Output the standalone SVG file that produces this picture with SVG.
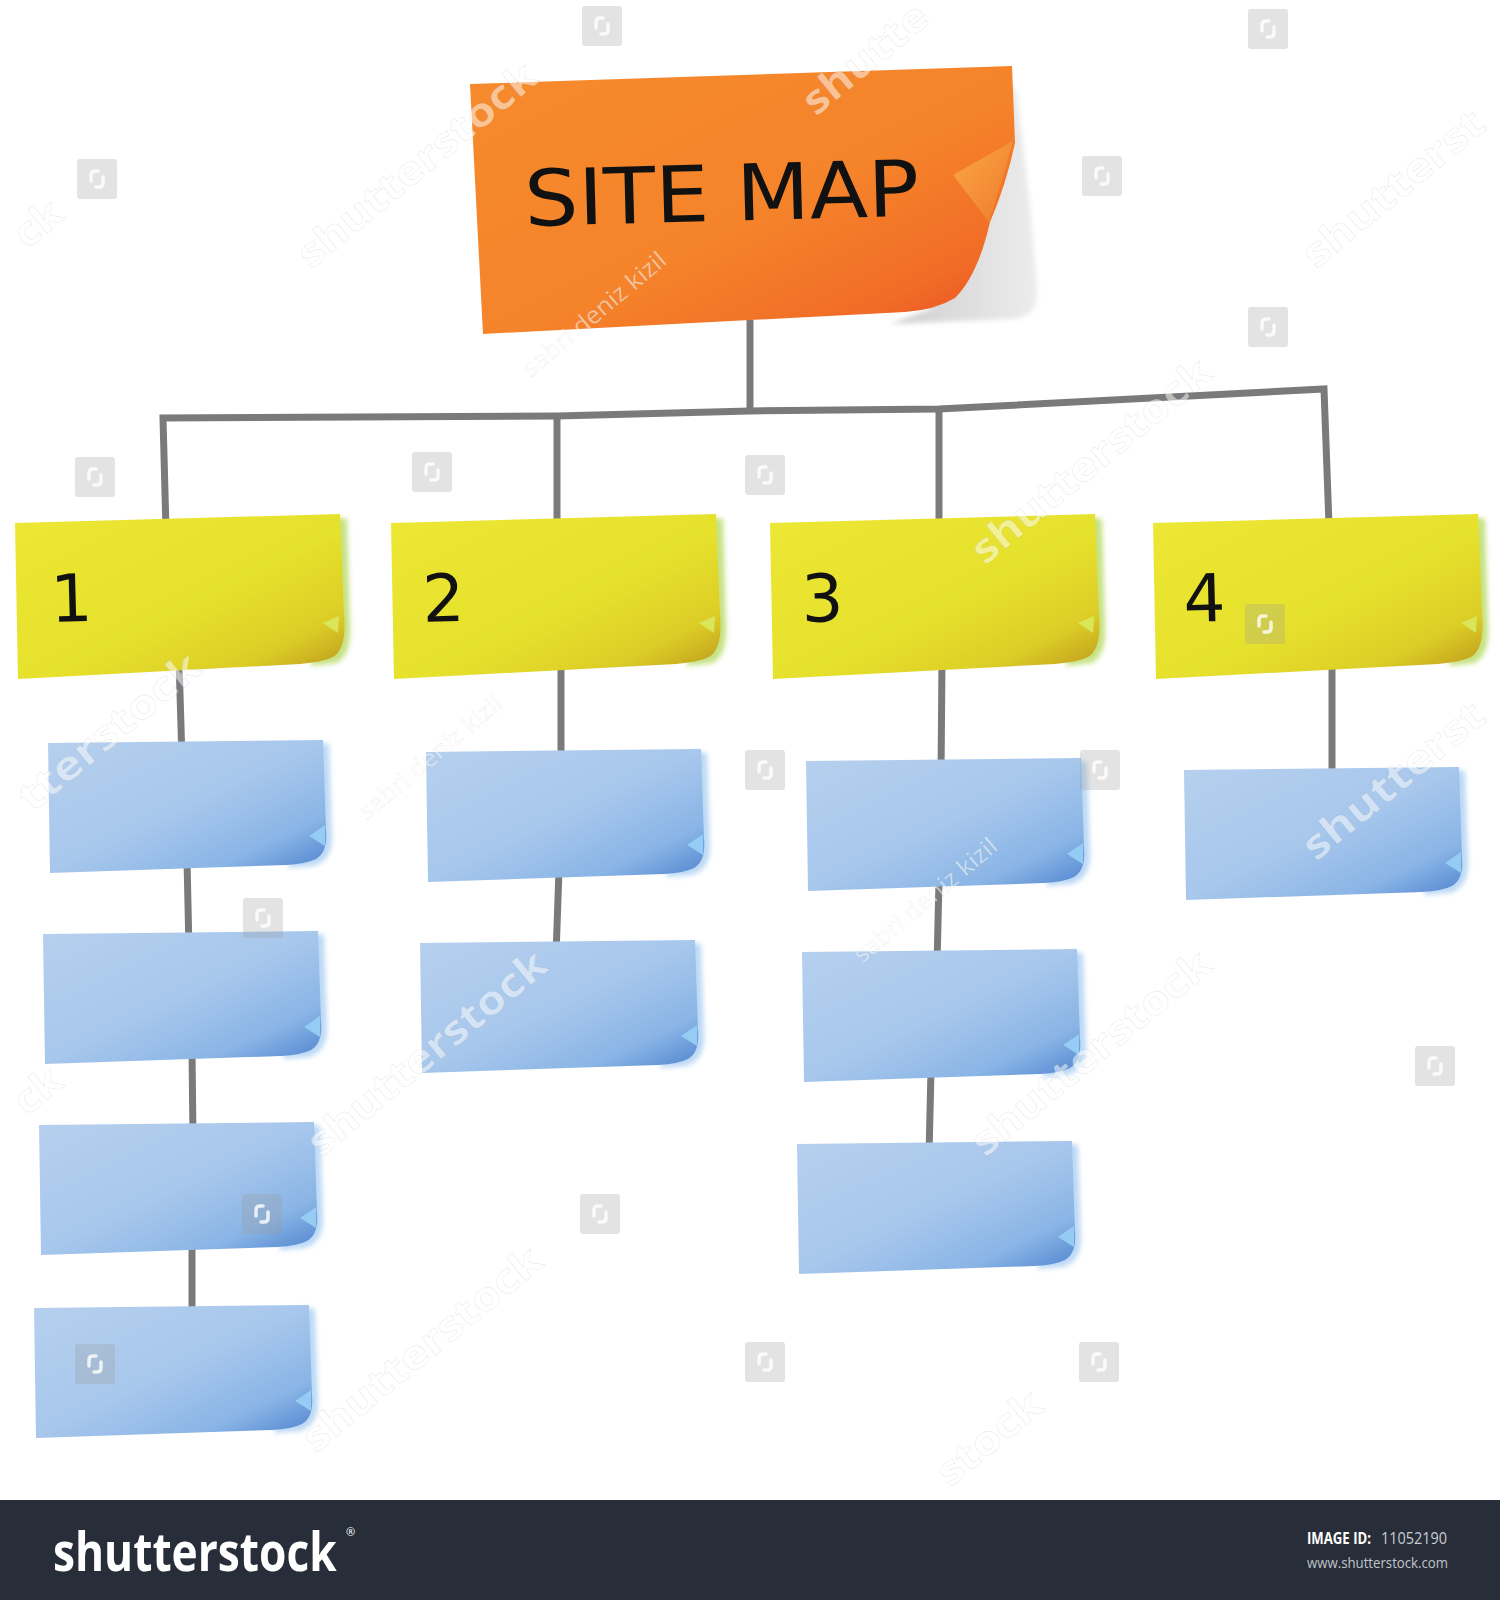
<svg xmlns="http://www.w3.org/2000/svg" xmlns:xlink="http://www.w3.org/1999/xlink" width="1500" height="1600" viewBox="0 0 1500 1600">
<style>
.conn{fill:none;stroke:#7a7a7a;stroke-width:7;stroke-linecap:butt;stroke-linejoin:miter}
.hand{font-family:"DejaVu Sans","Liberation Sans",sans-serif;fill:#111}
.wm{font-family:"Open Sans","DejaVu Sans",sans-serif;font-weight:700;fill:#ffffff;fill-opacity:0.5;stroke:#000;stroke-opacity:0.07;stroke-width:1}
.wms{font-family:"Open Sans","DejaVu Sans",sans-serif;font-weight:400;fill:#ffffff;fill-opacity:0.55;stroke:#000;stroke-opacity:0.07;stroke-width:0.8}
.ico rect{fill:#9a9a9a;fill-opacity:0.28}
.ico path{fill:none;stroke:#ffffff;stroke-opacity:0.8;stroke-width:3.5;stroke-linecap:round}
.foot{font-family:"Open Sans","Liberation Sans",sans-serif}
</style>
<defs>
<linearGradient id="gOrange" x1="0" y1="0" x2="1" y2="1">
<stop offset="0" stop-color="#f68b2c"/>
<stop offset="0.55" stop-color="#f5832a"/>
<stop offset="0.82" stop-color="#f16c27"/>
<stop offset="1" stop-color="#e84a20"/>
</linearGradient>
<linearGradient id="gFlap" x1="0" y1="0" x2="1" y2="1">
<stop offset="0" stop-color="#f9a848"/>
<stop offset="1" stop-color="#f07a2a"/>
</linearGradient>
<linearGradient id="gShadow" x1="0" y1="0" x2="1" y2="0">
<stop offset="0" stop-color="#cfcfcf"/>
<stop offset="1" stop-color="#ececec"/>
</linearGradient>
<linearGradient id="gYellow" x1="0" y1="0" x2="1" y2="1">
<stop offset="0" stop-color="#ede735"/>
<stop offset="0.55" stop-color="#e6e12c"/>
<stop offset="0.8" stop-color="#dccd26"/>
<stop offset="1" stop-color="#b8901c"/>
</linearGradient>
<linearGradient id="gBlue" x1="0" y1="0" x2="1" y2="1">
<stop offset="0" stop-color="#b6d0ee"/>
<stop offset="0.5" stop-color="#a7c7ec"/>
<stop offset="0.78" stop-color="#8ab5e6"/>
<stop offset="1" stop-color="#4c80ce"/>
</linearGradient>
<filter id="soft" x="-20%" y="-20%" width="140%" height="140%"><feGaussianBlur stdDeviation="2.5"/></filter>
<g id="yellowNote">
<path d="M 320,3 L 332,5 L 335,110 Q 337,140 322,149 L 296,152 Z" fill="#c6e283" filter="url(#soft)"/>
<path d="M 0,9 L 325,0 L 329,100 Q 332,135 318,143 Q 308,148 285,150 L 3,165 Z" fill="url(#gYellow)"/>
<path d="M 308,109 L 324,102 L 323,119 Z" fill="#d9e65a"/>
</g>
<g id="blueNote">
<path d="M 268,2 L 281,4 L 284,95 Q 285,120 266,126 L 240,128 Z" fill="#bcd9f5" filter="url(#soft)"/>
<path d="M 0,3 L 275,0 L 278,90 Q 280,112 268,119 Q 258,124 238,125 L 2,133 Z" fill="url(#gBlue)"/>
<path d="M 261,96 L 277,85 L 277,106 Z" fill="#95ccf3"/>
</g>
<g id="icon" class="ico">
<rect x="-20" y="-20" width="40" height="40" rx="3"/>
<path d="M -6,2 V -4 Q -6,-8 -2,-8 H 1 M 6,-2 V 4 Q 6,8 2,8 H -1"/>
</g>
</defs>
<rect width="1500" height="1600" fill="#ffffff"/>
<g id="connectors">
<path class="conn" d="M 750,320 L 750,412"/>
<path class="conn" d="M 166,530 L 163,418 L 557,416 L 750,411 L 939,409 L 1324,389 L 1329,525"/>
<path class="conn" d="M 557,416 L 557,530"/>
<path class="conn" d="M 939,409 L 939,530"/>
<path class="conn" d="M 179,660 L 182,760"/>
<path class="conn" d="M 187,860 L 189,950"/>
<path class="conn" d="M 192,1050 L 193,1140"/>
<path class="conn" d="M 192,1240 L 192,1320"/>
<path class="conn" d="M 561,660 L 561,765"/>
<path class="conn" d="M 559,870 L 556,955"/>
<path class="conn" d="M 942,660 L 941,775"/>
<path class="conn" d="M 939,880 L 937,965"/>
<path class="conn" d="M 931,1070 L 929,1155"/>
<path class="conn" d="M 1332,660 L 1332,785"/>
</g>
<g id="sitemap">
<path d="M 1000,68 L 1016,92 Q 1030,190 1037,290 Q 1039,318 1010,319 L 890,324 L 930,309 Z" fill="url(#gShadow)" filter="url(#soft)"/>
<path d="M 470,84 L 1012,66 L 1015,143 Q 1006,185 990,222 Q 978,275 955,298 Q 935,310 905,312 L 483,334 Z" fill="url(#gOrange)"/>
<path d="M 1013,141 L 953,175 L 989,222 Q 1001,185 1013,141 Z" fill="url(#gFlap)"/>
<text class="hand" x="525" y="226" font-size="78" textLength="395" lengthAdjust="spacingAndGlyphs" transform="rotate(-1.5 525 226)">SITE MAP</text>
</g>
<g id="s1" transform="translate(15,514)"><use xlink:href="#yellowNote"/><text class="hand" x="36" y="108" font-size="66" transform="rotate(-1.5 36 108)">1</text></g>
<g id="s2" transform="translate(391,514)"><use xlink:href="#yellowNote"/><text class="hand" x="32" y="108" font-size="66" transform="rotate(-1.5 32 108)">2</text></g>
<g id="s3" transform="translate(770,514)"><use xlink:href="#yellowNote"/><text class="hand" x="32" y="108" font-size="66" transform="rotate(-1.5 32 108)">3</text></g>
<g id="s4" transform="translate(1153,514)"><use xlink:href="#yellowNote"/><text class="hand" x="31" y="108" font-size="66" transform="rotate(-1.5 31 108)">4</text></g>
<g id="p1a" transform="translate(48,740)"><use xlink:href="#blueNote"/></g>
<g id="p1b" transform="translate(43,931)"><use xlink:href="#blueNote"/></g>
<g id="p1c" transform="translate(39,1122)"><use xlink:href="#blueNote"/></g>
<g id="p1d" transform="translate(34,1305)"><use xlink:href="#blueNote"/></g>
<g id="p2a" transform="translate(426,749)"><use xlink:href="#blueNote"/></g>
<g id="p2b" transform="translate(420,940)"><use xlink:href="#blueNote"/></g>
<g id="p3a" transform="translate(806,758)"><use xlink:href="#blueNote"/></g>
<g id="p3b" transform="translate(802,949)"><use xlink:href="#blueNote"/></g>
<g id="p3c" transform="translate(797,1141)"><use xlink:href="#blueNote"/></g>
<g id="p4a" transform="translate(1184,767)"><use xlink:href="#blueNote"/></g>
<g id="watermarks">
<use xlink:href="#icon" x="97" y="179"/>
<use xlink:href="#icon" x="602" y="26"/>
<use xlink:href="#icon" x="1268" y="29"/>
<use xlink:href="#icon" x="1102" y="176"/>
<use xlink:href="#icon" x="1268" y="327"/>
<use xlink:href="#icon" x="95" y="477"/>
<use xlink:href="#icon" x="432" y="472"/>
<use xlink:href="#icon" x="765" y="475"/>
<use xlink:href="#icon" x="765" y="770"/>
<use xlink:href="#icon" x="1100" y="770"/>
<use xlink:href="#icon" x="263" y="918"/>
<use xlink:href="#icon" x="1265" y="624"/>
<use xlink:href="#icon" x="600" y="1214"/>
<use xlink:href="#icon" x="262" y="1214"/>
<use xlink:href="#icon" x="95" y="1364"/>
<use xlink:href="#icon" x="765" y="1362"/>
<use xlink:href="#icon" x="1099" y="1362"/>
<use xlink:href="#icon" x="1435" y="1066"/>
<text class="wm" font-size="40" textLength="297" lengthAdjust="spacingAndGlyphs" transform="translate(311,270) rotate(-39.5)">shutterstock</text>
<text class="wm" font-size="40" textLength="150" lengthAdjust="spacingAndGlyphs" transform="translate(816,117) rotate(-39.5)">shutte</text>
<text class="wm" font-size="40" textLength="223" lengthAdjust="spacingAndGlyphs" transform="translate(1316,270) rotate(-39.5)">shutterst</text>
<text class="wm" font-size="40" textLength="297" lengthAdjust="spacingAndGlyphs" transform="translate(985,566) rotate(-39.5)">shutterstock</text>
<text class="wm" font-size="40" textLength="223" lengthAdjust="spacingAndGlyphs" transform="translate(32,813) rotate(-39.5)">tterstock</text>
<text class="wm" font-size="40" textLength="297" lengthAdjust="spacingAndGlyphs" transform="translate(321,1158) rotate(-39.5)">shutterstock</text>
<text class="wm" font-size="40" textLength="297" lengthAdjust="spacingAndGlyphs" transform="translate(985,1158) rotate(-39.5)">shutterstock</text>
<text class="wm" font-size="40" textLength="223" lengthAdjust="spacingAndGlyphs" transform="translate(1316,862) rotate(-39.5)">shutterst</text>
<text class="wm" font-size="40" textLength="297" lengthAdjust="spacingAndGlyphs" transform="translate(316,1454) rotate(-39.5)">shutterstock</text>
<text class="wm" font-size="40" textLength="124" lengthAdjust="spacingAndGlyphs" transform="translate(950,1488) rotate(-39.5)">stock</text>
<text class="wm" font-size="40" textLength="50" lengthAdjust="spacingAndGlyphs" transform="translate(27,250) rotate(-39.5)">ck</text>
<text class="wm" font-size="40" textLength="50" lengthAdjust="spacingAndGlyphs" transform="translate(27,1117) rotate(-39.5)">ck</text>
<text class="wms" font-size="24" textLength="179" lengthAdjust="spacingAndGlyphs" transform="translate(531,378) rotate(-40)">sabri deniz kizil</text>
<text class="wms" font-size="24" textLength="179" lengthAdjust="spacingAndGlyphs" transform="translate(367,821) rotate(-40)">sabri deniz kizil</text>
<text class="wms" font-size="24" textLength="179" lengthAdjust="spacingAndGlyphs" transform="translate(862,964) rotate(-40)">sabri deniz kizil</text>
</g>
<g id="footer">
<rect x="0" y="1500" width="1500" height="100" fill="#282e39"/>
<text class="foot" x="0" y="0" font-size="54" font-weight="700" fill="#ffffff" transform="translate(53,1571) scale(0.82,1)">shutterstock</text>
<text class="foot" x="346" y="1536" font-size="11" fill="#ffffff">®</text>
<text class="foot" x="1307" y="1544" font-size="16.5" font-weight="700" fill="#ffffff" textLength="64" lengthAdjust="spacingAndGlyphs">IMAGE ID:</text>
<text class="foot" x="1381" y="1544" font-size="16.5" fill="#c9cdd3" textLength="66" lengthAdjust="spacingAndGlyphs">11052190</text>
<text class="foot" x="1307" y="1568" font-size="14.5" fill="#c0c4ca" textLength="141" lengthAdjust="spacingAndGlyphs">www.shutterstock.com</text>
</g>
</svg>
